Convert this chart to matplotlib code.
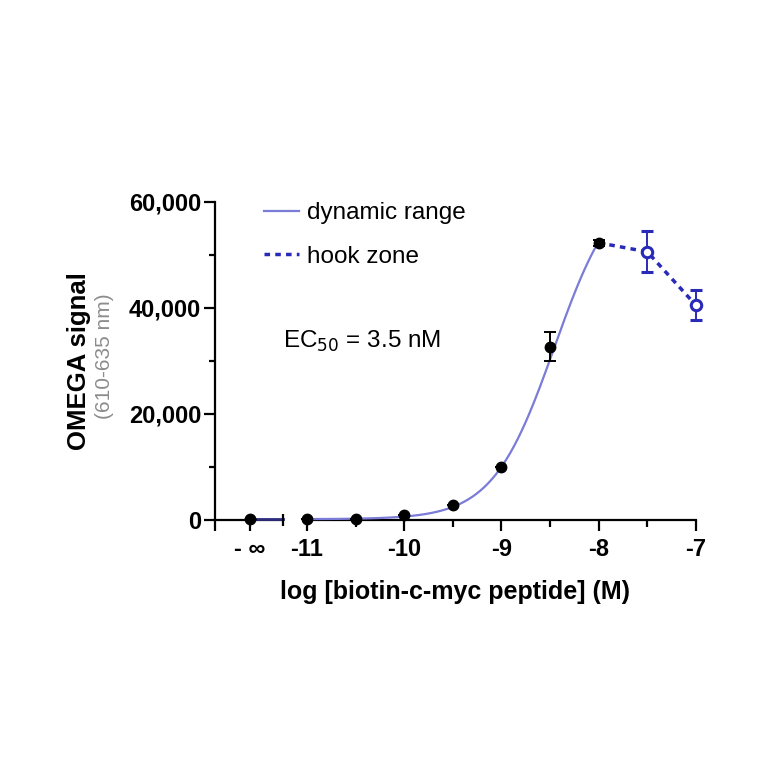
import numpy as np
import matplotlib.pyplot as plt
from matplotlib.ticker import MultipleLocator, FuncFormatter
from matplotlib.lines import Line2D

plt.rcParams['font.family'] = ['Liberation Sans', 'DejaVu Sans']

# ---- data ----
log_conc = [-11, -10.5, -10, -9.5, -9, -8.5, -8]
signal = [100, 250, 900, 2800, 10000, 32700, 52300]
signal_err = [0, 0, 0, 0, 0, 2700, 600]

zero_signal = 200          # the "-inf" (no peptide) point
zero_err = 0

hook_conc = [-8, -7.5, -7]
hook_signal = [52300, 50600, 40500]
hook_err = [0, 3900, 2850]

# 4PL fit (dynamic range)
fit_bottom = 150
fit_top = 65000
ec50_nM = 3.5
hill = 1.37

x_ticks = [-11, -10, -9, -8, -7]
y_ticks = [0, 20000, 40000, 60000]

solid_col = '#7b7bd8'
hook_col = '#2a2ab8'
base_col = '#2e2e80'

W = 764.0


def fx(px):
    return px / W


def fy(py):
    return (W - py) / W


fig = plt.figure(figsize=(7.64, 7.64), dpi=100, facecolor='white')

y_bot, y_top = 520, 202
ax_inf = fig.add_axes([fx(215), fy(y_bot), fx(283) - fx(215), fy(y_top) - fy(y_bot)])
ax = fig.add_axes([fx(304), fy(y_bot), fx(696) - fx(304), fy(y_top) - fy(y_bot)])

tick_fs = 17
for a in (ax_inf, ax):
    a.set_ylim(0, 60000)
    a.spines['top'].set_visible(False)
    a.spines['right'].set_visible(False)
    a.spines['bottom'].set_linewidth(1.6)
    a.spines['left'].set_linewidth(1.6)
    a.tick_params(axis='x', which='major', length=8, width=1.6, pad=5, labelsize=tick_fs)
    a.tick_params(axis='x', which='minor', length=5, width=1.6)
ax.spines['left'].set_visible(False)
ax.tick_params(axis='y', which='both', left=False, labelleft=False)

# ---- left segment (-inf) ----
inf_pos = 0.515
ax_inf.set_xlim(0, 1)
ax_inf.set_xticks([0, inf_pos])
ax_inf.set_xticklabels(['', '- \u221e'], fontweight='bold', fontsize=tick_fs)
ax_inf.set_yticks(y_ticks)
ax_inf.yaxis.set_minor_locator(MultipleLocator(10000))
ax_inf.yaxis.set_major_formatter(FuncFormatter(lambda v, p: f'{v:,.0f}'))
ax_inf.tick_params(axis='y', which='major', length=8, width=1.6, pad=2, labelsize=tick_fs)
ax_inf.tick_params(axis='y', which='minor', length=4, width=1.6)
for lab in ax_inf.get_yticklabels():
    lab.set_fontweight('bold')

ax_inf.plot([inf_pos, 1], [zero_signal, zero_signal], color=base_col, lw=2, clip_on=False, zorder=3)
ax_inf.errorbar([inf_pos], [zero_signal], yerr=[zero_err], fmt='o', color='black',
                ms=7.5, capsize=4, clip_on=False, zorder=4)
ax_inf.plot([1], [0], marker='|', ms=8, mew=1.6, color='black', clip_on=False, zorder=5)

# ---- main segment ----
ax.set_xlim(-11.03, -7.0)
ax.set_xticks(x_ticks)
ax.set_xticklabels([str(t) for t in x_ticks], fontweight='bold', fontsize=tick_fs)
ax.xaxis.set_minor_locator(MultipleLocator(0.5))

log_ec50 = np.log10(ec50_nM * 1e-9)
xc = np.linspace(-11.03, -8, 300)
yc = fit_bottom + (fit_top - fit_bottom) / (1 + 10 ** ((log_ec50 - xc) * hill))
ax.plot(xc, yc, color=solid_col, lw=1.6, zorder=3, clip_on=False)

ax.plot(hook_conc, hook_signal, color=hook_col, lw=2.5, ls=(0, (1.6, 1.5)), zorder=3)
ax.errorbar(hook_conc[1:], hook_signal[1:], yerr=hook_err[1:], fmt='o', color=hook_col,
            mfc='white', mec=hook_col, mew=2.2, ms=7.5, capsize=4, elinewidth=1.4,
            capthick=1.4, zorder=4, clip_on=False)
ax.errorbar(log_conc, signal, yerr=signal_err, fmt='o', color='black', ms=7.5,
            capsize=4, elinewidth=1.4, capthick=1.4, zorder=5, clip_on=False)

# ---- legend and labels ----
handles = [Line2D([], [], color=solid_col, lw=1.6),
           Line2D([], [], color=hook_col, lw=2.5, ls=(0, (1.6, 1.5)))]
fig.legend(handles, ['dynamic range', 'hook zone'], loc='upper left',
           bbox_to_anchor=(fx(264), fy(202)), bbox_transform=fig.transFigure,
           frameon=False, fontsize=17.5, handlelength=1.45, handletextpad=0.3,
           labelspacing=0.9, borderpad=0, borderaxespad=0)

fig.text(fx(283), fy(341), 'EC$_{50}$ = 3.5 nM', fontsize=17.5, ha='left', va='center')

fig.text(fx(79), fy(361), 'OMEGA signal', fontsize=18.5, fontweight='bold',
         rotation=90, ha='center', va='center')
fig.text(fx(104), fy(356), '(610-635 nm)', fontsize=15, color='#8c8c8c',
         rotation=90, ha='center', va='center')
fig.text(fx(455), fy(592), 'log [biotin-c-myc peptide] (M)', fontsize=18,
         fontweight='bold', ha='center', va='center')

fig.savefig('out.png', dpi=100, facecolor='white')
